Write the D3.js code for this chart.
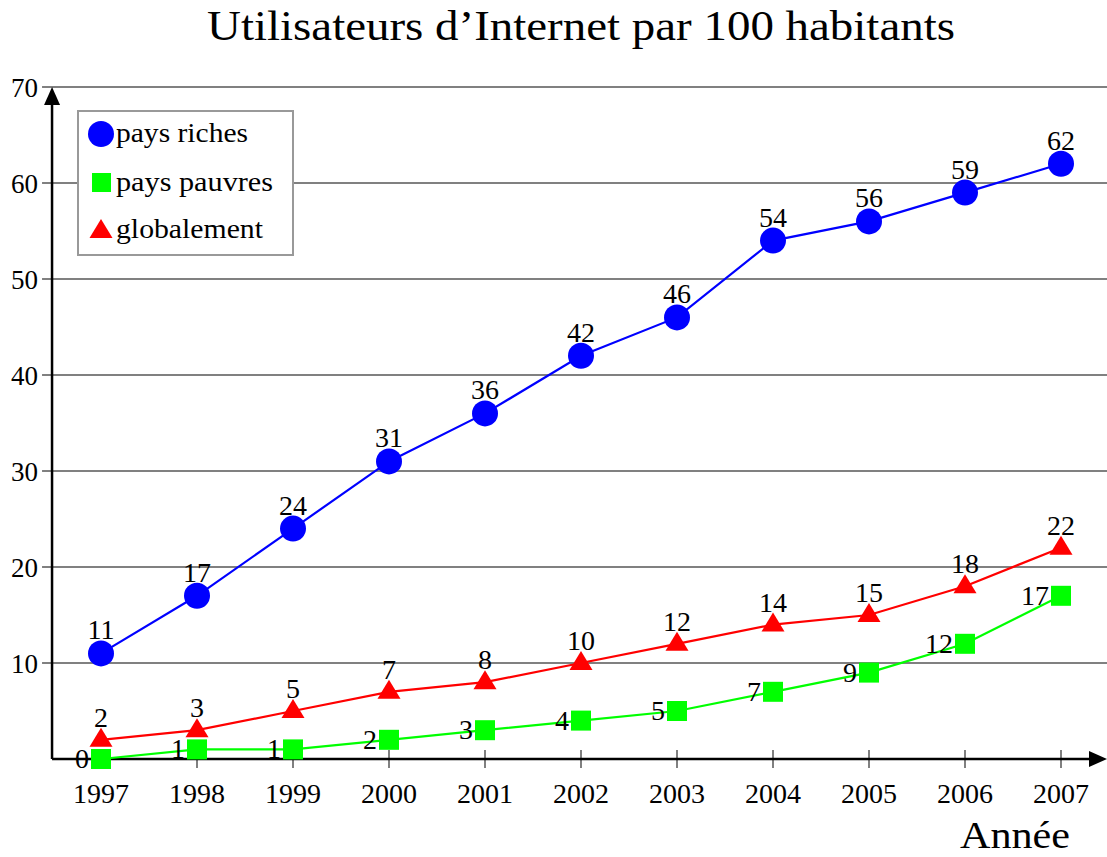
<!DOCTYPE html>
<html><head><meta charset="utf-8">
<script src="https://cdn.jsdelivr.net/npm/d3@7"></script>
<style>body{margin:0;background:#fff}svg{display:block}text{font-family:"Liberation Serif","DejaVu Serif",serif;fill:#000}</style>
</head><body><svg id="c" width="1107" height="857"></svg>
<script>
const years = [1997,1998,1999,2000,2001,2002,2003,2004,2005,2006,2007];
const riches = [11,17,24,31,36,42,46,54,56,59,62];
const pauvres = [0,1,1,2,3,4,5,7,9,12,17];
const global = [2,3,5,7,8,10,12,14,15,18,22];
const yTicks = [10,20,30,40,50,60,70];
const legendLabels = ["pays riches","pays pauvres","globalement"];
const title = "Utilisateurs d’Internet par 100 habitants";
const xTitle = "Année";

const svg = d3.select("#c");
const x = d3.scaleLinear().domain([1997,2007]).range([101,1061]);
const y = d3.scaleLinear().domain([0,70]).range([759,87]);
const axisX = x(1996.49);
const FS = 28;

// grid lines
svg.append("g").selectAll("line").data(yTicks).join("line")
  .attr("x1", axisX-10).attr("x2", 1107).attr("y1", d=>y(d)).attr("y2", d=>y(d))
  .attr("stroke","#808080").attr("stroke-width",2);
// y tick labels
svg.append("g").selectAll("text").data(yTicks).join("text")
  .attr("x", axisX-14).attr("y", d=>y(d)+10).attr("text-anchor","end")
  .attr("font-size",27).text(d=>d);
// x ticks
svg.append("g").selectAll("line").data(years).join("line")
  .attr("x1", d=>x(d)).attr("x2", d=>x(d)).attr("y1", y(0)-9).attr("y2", y(0)+9)
  .attr("stroke","#808080").attr("stroke-width",2);
svg.append("g").selectAll("text").data(years).join("text")
  .attr("x", d=>x(d)).attr("y", y(0)+44).attr("text-anchor","middle")
  .attr("font-size",FS).text(d=>d);

// axes
svg.append("line").attr("x1",axisX).attr("x2",axisX).attr("y1",y(0)).attr("y2",y(70)+14)
  .attr("stroke","#000").attr("stroke-width",2.5);
svg.append("path").attr("d",`M${axisX},${y(70)} L${axisX-8},${y(70)+18} L${axisX+8},${y(70)+18}Z`).attr("fill","#000");
svg.append("line").attr("x1",axisX).attr("x2",1092).attr("y1",y(0)).attr("y2",y(0))
  .attr("stroke","#000").attr("stroke-width",2.5);
svg.append("path").attr("d",`M1107,${y(0)} L1089,${y(0)-8} L1089,${y(0)+8}Z`).attr("fill","#000");

const line = d3.line().x((d,i)=>x(years[i])).y(d=>y(d));
function series(data,color){
  svg.append("path").datum(data).attr("d",line).attr("fill","none").attr("stroke",color).attr("stroke-width",2.2);
}
series(pauvres,"#00ff00");
series(global,"#ff0000");
series(riches,"#0000ff");

const triPath = "M0,-12 L11.5,7 L-11.5,7Z";
// pauvres markers
svg.append("g").selectAll("rect").data(pauvres).join("rect")
  .attr("x",(d,i)=>x(years[i])-10).attr("y",d=>y(d)-10).attr("width",20).attr("height",20).attr("fill","#00ff00");
svg.append("g").selectAll("text").data(pauvres).join("text")
  .attr("x",(d,i)=>x(years[i])-12).attr("y",d=>y(d)+9).attr("text-anchor","end").attr("font-size",FS).text(d=>d);
// global markers
svg.append("g").selectAll("path").data(global).join("path")
  .attr("d",triPath).attr("transform",(d,i)=>`translate(${x(years[i])},${y(d)})`).attr("fill","#ff0000");
svg.append("g").selectAll("text").data(global).join("text")
  .attr("x",(d,i)=>x(years[i])).attr("y",d=>y(d)-13).attr("text-anchor","middle").attr("font-size",FS).text(d=>d);
// riches markers
svg.append("g").selectAll("circle").data(riches).join("circle")
  .attr("cx",(d,i)=>x(years[i])).attr("cy",d=>y(d)).attr("r",13).attr("fill","#0000ff");
svg.append("g").selectAll("text").data(riches).join("text")
  .attr("x",(d,i)=>x(years[i])).attr("y",d=>y(d)-14).attr("text-anchor","middle").attr("font-size",FS).text(d=>d);

// legend
const lg = svg.append("g");
lg.append("rect").attr("x",78).attr("y",111).attr("width",215).attr("height",144)
  .attr("fill","#fff").attr("stroke","#999").attr("stroke-width",2);
const ly = [134,183,230];
const lw = [132,157,147];
lg.append("circle").attr("cx",101).attr("cy",ly[0]).attr("r",13).attr("fill","#0000ff");
lg.append("rect").attr("x",92).attr("y",ly[1]-10).attr("width",19).attr("height",19).attr("fill","#00ff00");
lg.append("path").attr("d",triPath).attr("transform",`translate(101,${ly[2]+1})`).attr("fill","#ff0000");
lg.selectAll("text").data(legendLabels).join("text")
  .attr("x",116).attr("y",(d,i)=>ly[i]+8).attr("font-size",FS)
  .attr("textLength",(d,i)=>lw[i]).attr("lengthAdjust","spacingAndGlyphs").text(d=>d);

svg.append("text").attr("x",207).attr("y",40).attr("font-size",42)
  .attr("textLength",748).attr("lengthAdjust","spacingAndGlyphs").text(title);
svg.append("text").attr("x",960).attr("y",848).attr("font-size",38)
  .attr("textLength",110).attr("lengthAdjust","spacingAndGlyphs").text(xTitle);
</script></body></html>
